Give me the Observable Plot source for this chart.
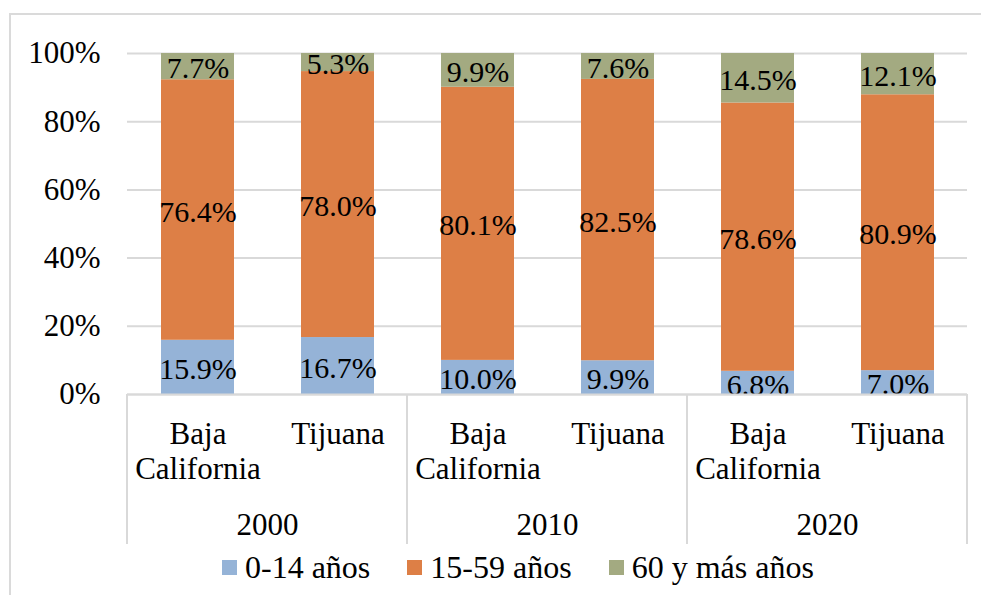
<!DOCTYPE html>
<html>
<head>
<meta charset="utf-8">
<script src="https://cdn.jsdelivr.net/npm/d3@7"></script>
<script src="https://cdn.jsdelivr.net/npm/@observablehq/plot@0.6"></script>
<style>
  body { margin: 0; background: #fff; }
  .wrap { position: relative; width: 981px; height: 595px; overflow: hidden; }
  .border { position: absolute; left: 9px; top: 13px; width: 1200px; height: 1200px; border: 2px solid #dadada; box-sizing: border-box; }
  .chart { position: absolute; left: 0; top: 0; }
  .legend { position: absolute; left: 222px; top: 548px; display: flex; align-items: center; font-size: 32px; line-height: 38px; color: #000; white-space: nowrap; }
  .item { display: flex; align-items: center; margin-right: 37px; }
  .sw { width: 15px; height: 15px; margin-right: 8px; }
  .serif { font-family: 'Liberation Serif', serif; }
</style>
</head>
<body>
<div class="wrap serif">
  <div class="border"></div>
  <div class="chart" id="chart"></div>
  <div class="legend serif" id="legend"></div>
</div>
<script>
const years = ["2000", "2010", "2020"];
const places = ["Baja California", "Tijuana"];
const groups = ["0-14 años", "15-59 años", "60 y más años"];
const young = [15.9, 16.7, 10.0, 9.9, 6.8, 7.0];
const adult = [76.4, 78.0, 80.1, 82.5, 78.6, 80.9];
const old = [7.7, 5.3, 9.9, 7.6, 14.5, 12.1];
const yTicks = [0, 0.2, 0.4, 0.6, 0.8, 1];
const colors = ["#95b3d7", "#dd7f46", "#a3aa81"];
const FONT = "'Liberation Serif', serif";

const series = [young, adult, old];
const rows = [];
for (let i = 0; i < young.length; i++) {
  const year = years[Math.floor(i / 2)];
  const place = places[i % 2];
  series.forEach((s, g) => rows.push({year, place, group: groups[g], value: s[i]}));
}

const plot = Plot.plot({
  width: 981,
  height: 595,
  marginLeft: 127,
  marginRight: 14,
  marginTop: 53,
  marginBottom: 201,
  style: {fontSize: "31px", color: "#000", background: "transparent", overflow: "visible"},
  fx: {domain: years, padding: 0, label: null},
  x: {domain: places, paddingInner: 0.48, paddingOuter: 0.24, label: null},
  y: {domain: [0, 1], label: null},
  color: {domain: groups, range: colors},
  marks: [
    Plot.gridY(yTicks, {stroke: "#d9d9d9", strokeOpacity: 1, strokeWidth: 2}),
    Plot.barY(rows, Plot.stackY({offset: "normalize", fx: "year", x: "place", y: "value", fill: "group"})),
    Plot.text(rows, Plot.stackY({offset: "normalize", fx: "year", x: "place", y: "value", z: "group",
      text: d => d.value.toFixed(1) + "%", fill: "#000", fontSize: 30, dy: 2})),
    Plot.ruleY([0], {stroke: "#d9d9d9", strokeWidth: 2}),
    Plot.axisY(yTicks, {tickFormat: d => Math.round(d * 100) + "%", tickSize: 0, tickPadding: 27, label: null}),
    Plot.axisX({tickSize: 0, tickPadding: 25, lineHeight: 1.12, tickFormat: d => d.replace(" ", "\n"), label: null}),
    Plot.axisFx({anchor: "bottom", tickSize: 0, tickPadding: 118, label: null})
  ]
});

plot.setAttribute("font-family", "Liberation Serif, serif");
plot.style.setProperty("font-family", FONT, "important");
document.getElementById("chart").appendChild(plot);
d3.select(plot).selectAll("g, text, tspan").style("font-family", FONT, "important");

// group separators on the category axis, from the fx scale
const fx = plot.scale("fx");
const yS = plot.scale("y");
const base = yS.apply(0);
const edges = years.map(y => fx.apply(y)).concat([fx.apply(years[years.length - 1]) + fx.bandwidth]);
d3.select(plot).append("g")
  .selectAll("line").data(edges).join("line")
  .attr("x1", d => d).attr("x2", d => d)
  .attr("y1", base).attr("y2", base + 150)
  .attr("stroke", "#d9d9d9").attr("stroke-width", 2);

// legend
const color = plot.scale("color");
const legend = d3.select("#legend");
groups.forEach((g, i) => {
  const it = legend.append("div").attr("class", "item");
  it.append("div").attr("class", "sw").style("background", color.apply(g));
  it.append("span").style("font-family", FONT, "important").text(g);
});
</script>
</body>
</html>
